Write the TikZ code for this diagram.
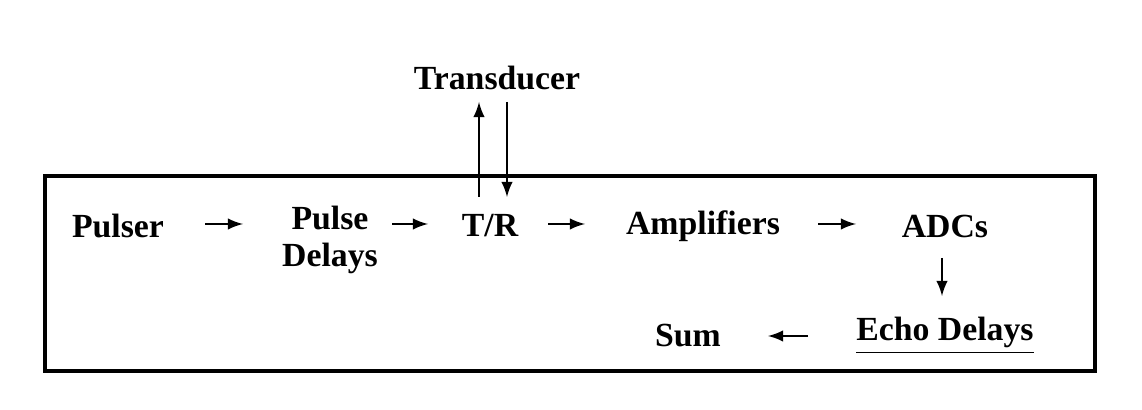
\documentclass[tikz,border=0pt]{standalone}
\usepackage{fontspec}
\setmainfont{Liberation Serif}
\begin{document}
\begin{tikzpicture}[x=0.01cm,y=-0.01cm,
  lbl/.style={font=\fontsize{9.6}{10.5}\selectfont\bfseries,inner sep=1pt,align=center},
  arr/.style={-latex,line width=0.5pt}]
\useasboundingbox (0,0) rectangle (1142,410);
\draw[line width=1.2pt] (45,176) rectangle (1095,371);
\node[lbl] (pulser) at (118,226) {Pulser};
\node[lbl] (pd) at (330,240) {Pulse\\Delays};
\node[lbl] (tr) at (490,226) {T/R};
\node[lbl] (amp) at (703,226) {Amplifiers};
\node[lbl] (adc) at (945,226) {ADCs};
\node[lbl] (tx) at (497,78) {Transducer};
\node[lbl] (echo) at (945,336) {\underline{Echo Delays}};
\node[lbl] (sum) at (688,336) {Sum};
\coordinate (a1s) at (205,224); \coordinate (a1e) at (243,224);
\draw[arr] (a1s) -- (a1e);
\coordinate (a2s) at (392,224); \coordinate (a2e) at (428,224);
\draw[arr] (a2s) -- (a2e);
\coordinate (a3s) at (548,224); \coordinate (a3e) at (585,224);
\draw[arr] (a3s) -- (a3e);
\coordinate (a4s) at (818,224); \coordinate (a4e) at (856,224);
\draw[arr] (a4s) -- (a4e);
\coordinate (a5s) at (942,258); \coordinate (a5e) at (942,296);
\draw[arr] (a5s) -- (a5e);
\coordinate (a6s) at (808,336); \coordinate (a6e) at (768,336);
\draw[arr] (a6s) -- (a6e);
\coordinate (u1) at (479,197); \coordinate (u2) at (479,102);
\draw[arr] (u1) -- (u2);
\coordinate (d1) at (507,102); \coordinate (d2) at (507,197);
\draw[arr] (d1) -- (d2);
\end{tikzpicture}
\end{document}
